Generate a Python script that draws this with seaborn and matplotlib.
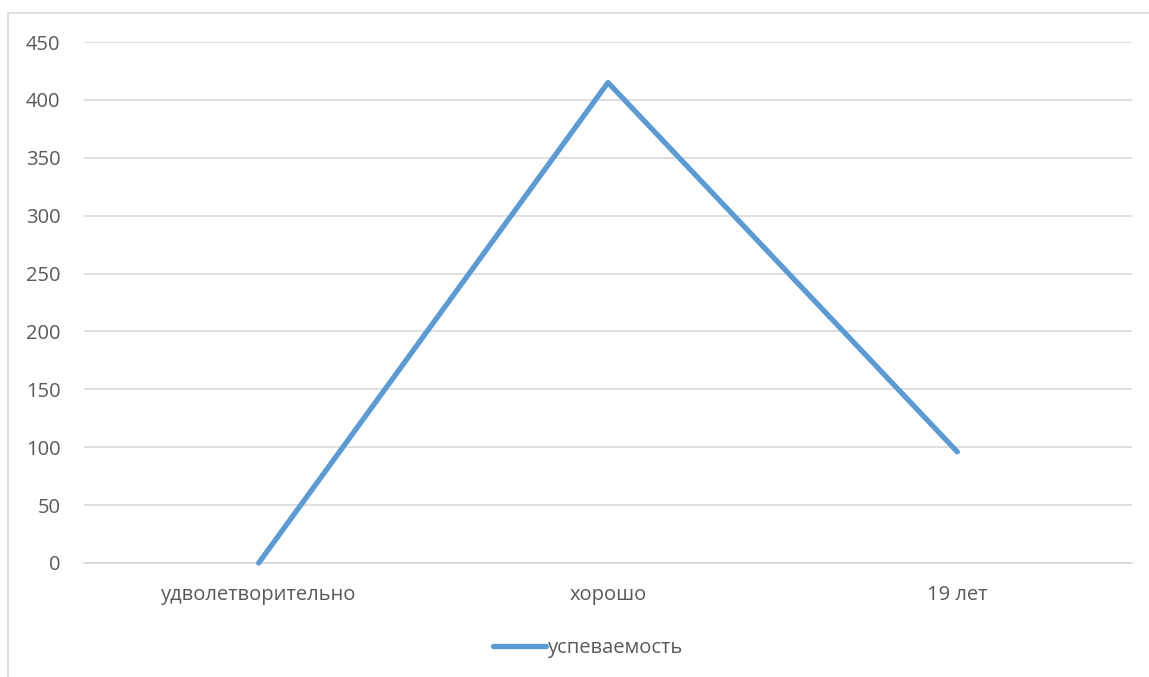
import pandas as pd
import matplotlib.pyplot as plt
import seaborn as sns
from matplotlib.patches import Rectangle

categories = ["удволетворительно", "хорошо", "19 лет"]
values = [0, 415, 96]
series_name = "успеваемость"

df = pd.DataFrame({"category": categories, "value": values, "series": series_name})

sns.set_style("white")
plt.rcParams['font.family'] = ['Open Sans', 'DejaVu Sans']

fig = plt.figure(figsize=(11.49, 6.77), dpi=100)
ax = fig.add_axes([84 / 1149, 1 - 563 / 677, (1132 - 84) / 1149, (563 - 42) / 677])

sns.lineplot(data=df, x="category", y="value", hue="series", palette=["#5B9BD5"],
             sort=False, linewidth=3.8, ax=ax, legend=False)
line = ax.lines[0]
line.set_solid_capstyle("round")
line.set_clip_on(False)
line.set_zorder(3)

ax.set_xlim(-0.5, 2.5)
ax.set_ylim(0, 450)
ax.set_yticks(range(0, 451, 50))
ax.yaxis.grid(True, color="#D9D9D9", linewidth=1.2)
ax.set_axisbelow(True)
for s in ["top", "right", "left"]:
    ax.spines[s].set_visible(False)
ax.spines["bottom"].set_color("#D9D9D9")
ax.spines["bottom"].set_linewidth(1.2)
ax.tick_params(axis="both", length=0, labelsize=14.5, colors="#595959")
ax.tick_params(axis="y", pad=17)
ax.tick_params(axis="x", pad=16)
ax.set_xlabel("")
ax.set_ylabel("")

handle = plt.Line2D([], [], color="#5B9BD5", linewidth=3.8, solid_capstyle="round")
fig.legend([handle], [series_name], loc="center", bbox_to_anchor=(588 / 1149, 1 - 648 / 677),
           frameon=False, fontsize=14.5, labelcolor="#595959", handlelength=2.6, handletextpad=0.1)

fig.patches.append(Rectangle((7.5 / 1149, -0.02), 1.1, 1 - 13 / 677 + 0.02,
                             transform=fig.transFigure, fill=False,
                             edgecolor="#D9D9D9", linewidth=1.2))

fig.savefig("out.png", dpi=100, facecolor="white")
